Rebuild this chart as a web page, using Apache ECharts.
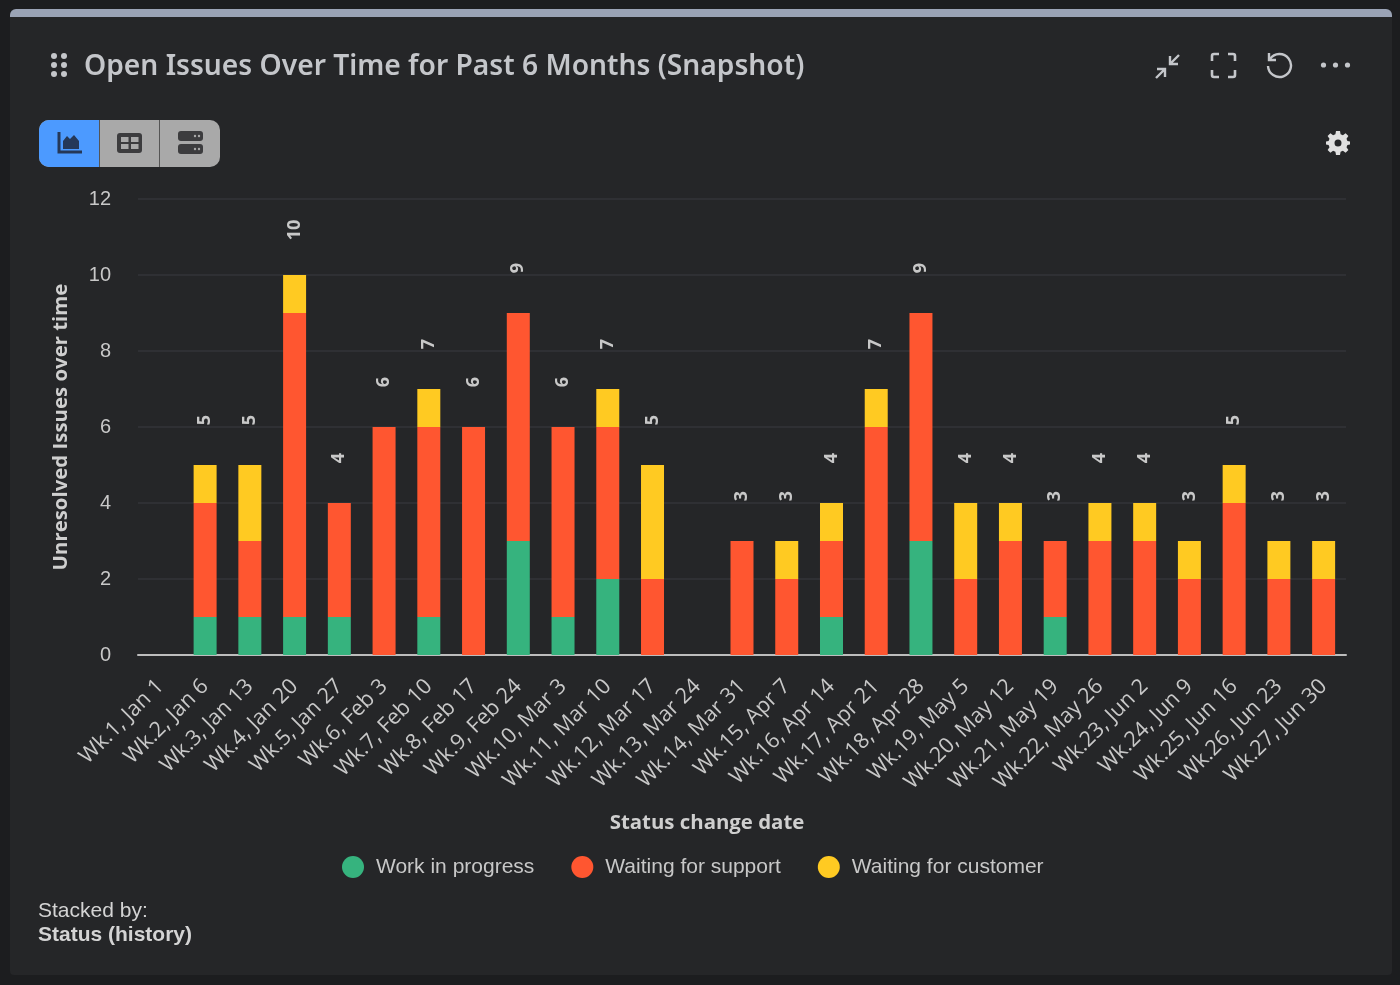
<!DOCTYPE html>
<html>
<head>
<meta charset="utf-8">
<title>Open Issues Over Time</title>
<script src="https://cdn.jsdelivr.net/npm/echarts@6/dist/echarts.min.js"></script>
<style>
html, body { margin: 0; padding: 0; width: 1400px; height: 985px; background: #1c1d1f; overflow: hidden; }
#card { position: absolute; left: 10px; top: 9px; width: 1382px; height: 966px; background: #252628; border-radius: 6px 6px 4px 4px; overflow: hidden; }
#topbar { position: absolute; left: 0; top: 0; width: 100%; height: 8px; background: #9aa3b5; }
#chart { position: absolute; left: 0; top: 0; width: 1400px; height: 985px; }
#title { position: absolute; left: 84px; top: 45px; color: #c4c6ca; font: 600 28.2px "Noto Sans", sans-serif; white-space: nowrap; }
#stacked { position: absolute; left: 38px; top: 898px; color: #d4d4d4; font: 21px/24px "Liberation Sans", sans-serif; }
#stacked b { font-weight: bold; }
.abs { position: absolute; }
#switch { position: absolute; left: 39px; top: 120px; width: 181px; height: 47px; border-radius: 10px; overflow: hidden; background: #a9a9a9; }
#switch div { position: absolute; top: 0; height: 47px; }
</style>
</head>
<body>
<div id="card"><div id="topbar"></div></div>
<div id="chart"></div>

<div id="title">Open Issues Over Time for Past 6 Months (Snapshot)</div>
<div id="stacked">Stacked by:<br><b>Status (history)</b></div>

<!-- drag handle -->
<svg class="abs" style="left:50px;top:52px" width="20" height="28" fill="#c4c6ca">
  <circle cx="4" cy="4" r="3"/><circle cx="14" cy="4" r="3"/>
  <circle cx="4" cy="13" r="3"/><circle cx="14" cy="13" r="3"/>
  <circle cx="4" cy="22" r="3"/><circle cx="14" cy="22" r="3"/>
</svg>

<!-- view switch -->
<div id="switch">
  <div style="left:0;width:60px;background:#4c9aff"></div>
  <div style="left:60px;width:1px;background:#555"></div>
  <div style="left:120px;width:1px;background:#555"></div>
  <svg class="abs" style="left:17px;top:10px" width="28" height="26">
    <path d="M3 2V22H26" fill="none" stroke="#253858" stroke-width="3"/>
    <path d="M7 19V11L11 6L14 9L18 5L23 11V19Z" fill="#253858"/>
  </svg>
  <svg class="abs" style="left:77px;top:11px" width="28" height="24">
    <rect x="1" y="2" width="25" height="20" rx="3" fill="#3c3c3e"/>
    <rect x="5" y="6" width="7.5" height="5" fill="#a9a9a9"/><rect x="15" y="6" width="7.5" height="5" fill="#a9a9a9"/>
    <rect x="5" y="13" width="7.5" height="5" fill="#a9a9a9"/><rect x="15" y="13" width="7.5" height="5" fill="#a9a9a9"/>
  </svg>
  <svg class="abs" style="left:138px;top:11px" width="28" height="24">
    <rect x="1" y="0" width="25" height="10" rx="3" fill="#3c3c3e"/>
    <rect x="1" y="13" width="25" height="10" rx="3" fill="#3c3c3e"/>
    <circle cx="18" cy="5" r="1.2" fill="#a9a9a9"/><circle cx="22" cy="5" r="1.2" fill="#a9a9a9"/>
    <circle cx="18" cy="18" r="1.2" fill="#a9a9a9"/><circle cx="22" cy="18" r="1.2" fill="#a9a9a9"/>
  </svg>
</div>

<!-- panel icons -->
<svg class="abs" style="left:1154px;top:52px" width="28" height="28" fill="none" stroke="#c4c6ca" stroke-width="2.4">
  <path d="M2 26L11 17M3 17H11V25"/><path d="M25 3L16 12M16 4V12H24"/>
</svg>
<svg class="abs" style="left:1210px;top:52px" width="28" height="28" fill="none" stroke="#c4c6ca" stroke-width="2.6">
  <path d="M2 9V4Q2 2 4 2H9M18 2H23Q25 2 25 4V9M25 18V23Q25 25 23 25H18M9 25H4Q2 25 2 23V18"/>
</svg>
<svg class="abs" style="left:1265px;top:52px" width="28" height="28" fill="none" stroke="#c4c6ca" stroke-width="2.4">
  <path d="M5 7A11.5 11.5 0 1 1 3 14"/><path d="M4 1V8H11"/>
</svg>
<svg class="abs" style="left:1320px;top:58px" width="32" height="14" fill="#c4c6ca">
  <circle cx="3.5" cy="7" r="2.6"/><circle cx="15.5" cy="7" r="2.6"/><circle cx="27.5" cy="7" r="2.6"/>
</svg>
<svg class="abs" style="left:1326px;top:131px" width="24" height="24" viewBox="0 0 24 24">
  <path fill="#e0e0e0" fill-rule="evenodd" d="M10 0H14L14.6 3.2L16.9 4.2L19.6 2.3L22.4 5.1L20.5 7.8L21.4 10L24 10.6V13.4L21.4 14L20.5 16.2L22.4 18.9L19.6 21.7L16.9 19.8L14.6 20.8L14 24H10L9.4 20.8L7.1 19.8L4.4 21.7L1.6 18.9L3.5 16.2L2.6 14L0 13.4V10.6L2.6 10L3.5 7.8L1.6 5.1L4.4 2.3L7.1 4.2L9.4 3.2ZM12 8.5A3.5 3.5 0 1 0 12 15.5A3.5 3.5 0 1 0 12 8.5Z"/>
</svg>

<script>
var categories = ['Wk.1, Jan 1', 'Wk.2, Jan 6', 'Wk.3, Jan 13', 'Wk.4, Jan 20', 'Wk.5, Jan 27', 'Wk.6, Feb 3', 'Wk.7, Feb 10', 'Wk.8, Feb 17', 'Wk.9, Feb 24', 'Wk.10, Mar 3', 'Wk.11, Mar 10', 'Wk.12, Mar 17', 'Wk.13, Mar 24', 'Wk.14, Mar 31', 'Wk.15, Apr 7', 'Wk.16, Apr 14', 'Wk.17, Apr 21', 'Wk.18, Apr 28', 'Wk.19, May 5', 'Wk.20, May 12', 'Wk.21, May 19', 'Wk.22, May 26', 'Wk.23, Jun 2', 'Wk.24, Jun 9', 'Wk.25, Jun 16', 'Wk.26, Jun 23', 'Wk.27, Jun 30'];
var workInProgress = [0, 1, 1, 1, 1, 0, 1, 0, 3, 1, 2, 0, 0, 0, 0, 1, 0, 3, 0, 0, 1, 0, 0, 0, 0, 0, 0];
var waitingSupport = [0, 3, 2, 8, 3, 6, 5, 6, 6, 5, 4, 2, 0, 3, 2, 2, 6, 6, 2, 3, 2, 3, 3, 2, 4, 2, 2];
var waitingCustomer = [0, 1, 2, 1, 0, 0, 1, 0, 0, 0, 1, 3, 0, 0, 1, 1, 1, 0, 2, 1, 0, 1, 1, 1, 1, 1, 1];
var totals = [0, 5, 5, 10, 4, 6, 7, 6, 9, 6, 7, 5, 0, 3, 3, 4, 7, 9, 4, 4, 3, 4, 4, 3, 5, 3, 3];
var yTicks = { min: 0, max: 12, interval: 2 };

function barSeries(name, values, color) {
    return {
        name: name,
        type: 'bar',
        stack: 'status',
        barWidth: 23,
        itemStyle: { color: color },
        data: values
    };
}

var myChart = echarts.init(document.getElementById('chart'));

myChart.setOption({
    animation: false,
    backgroundColor: 'transparent',
    grid: { left: 138, right: 54, top: 199, bottom: 330 },
    legend: {
        data: ['Work in progress', 'Waiting for support', 'Waiting for customer'],
        left: 342,
        top: 856,
        padding: 0,
        icon: 'circle',
        itemWidth: 22,
        itemHeight: 22,
        itemGap: 37,
        textStyle: { color: '#c8c8c8', fontSize: 21, fontFamily: 'Liberation Sans', padding: [0, 0, 0, 7] }
    },
    xAxis: {
        type: 'category',
        data: categories,
        name: 'Status change date',
        nameLocation: 'middle',
        nameGap: 158,
        nameTextStyle: { color: '#cfcfcf', fontSize: 20.4, fontWeight: 'bold', fontFamily: 'Open Sans', padding: [0, 70, 0, 0] },
        axisLine: { lineStyle: { color: '#bdbdbd', width: 2 } },
        axisTick: { show: false },
        axisLabel: { interval: 0, rotate: 45, margin: 28, color: '#c8c8c8', fontSize: 21.5, fontFamily: 'Open Sans' }
    },
    yAxis: {
        type: 'value',
        min: yTicks.min,
        max: yTicks.max,
        interval: yTicks.interval,
        name: 'Unresolved Issues over time',
        nameLocation: 'middle',
        nameGap: 67,
        nameTextStyle: { color: '#cfcfcf', fontSize: 20.4, fontWeight: 'bold', fontFamily: 'Open Sans' },
        axisLine: { show: false },
        axisTick: { show: false },
        axisLabel: { margin: 27, color: '#c8c8c8', fontSize: 20, fontFamily: 'Liberation Sans' },
        splitLine: { lineStyle: { color: '#333538', width: 1.5 } }
    },
    series: [
        barSeries('Work in progress', workInProgress, '#36b37e'),
        barSeries('Waiting for support', waitingSupport, '#ff5630'),
        barSeries('Waiting for customer', waitingCustomer, '#ffca22'),
        {
            // invisible line only carries the stack totals
            name: 'Total',
            type: 'line',
            data: totals,
            symbol: 'circle',
            symbolSize: 0,
            showSymbol: true,
            showAllSymbol: true,
            itemStyle: { color: 'transparent' },
            lineStyle: { opacity: 0 },
            silent: true,
            label: {
                show: true,
                position: 'top',
                distance: 45,
                rotate: 90,
                align: 'center',
                verticalAlign: 'middle',
                color: '#c8c8c8',
                fontSize: 18,
                fontWeight: 'bold',
                fontFamily: 'Open Sans',
                formatter: function (p) { return p.value ? p.value : ''; }
            }
        }
    ]
});
</script>
</body>
</html>
